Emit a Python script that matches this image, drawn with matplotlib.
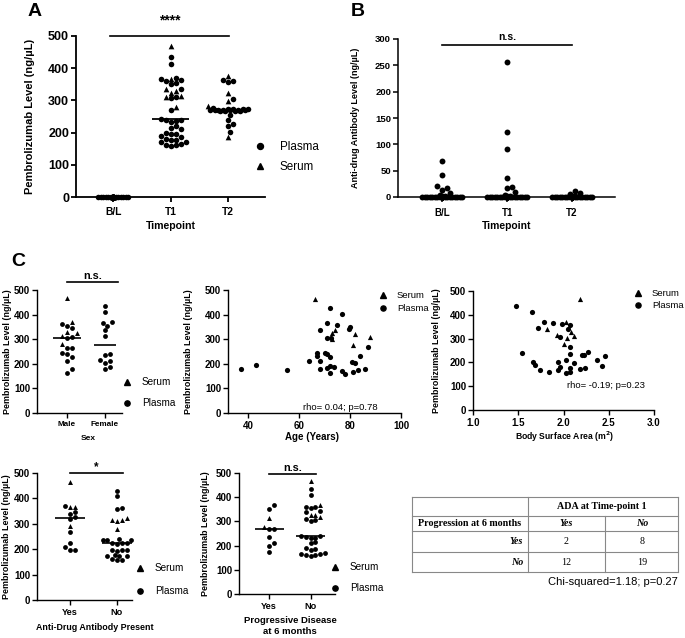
import numpy as np
import matplotlib
matplotlib.use('Agg')
import matplotlib.pyplot as plt
from matplotlib.lines import Line2D

plt.rcParams['font.family'] = ['Liberation Sans', 'DejaVu Sans']
plt.rcParams['axes.linewidth'] = 1.0

# ---------------- DATA ----------------
timepoints = ['B/L', 'T1', 'T2']
A_bl_plasma = [0, 0, 0, 0, 0, 0, 0, 0, 0, 0, 0, 0, 0, 0, 0, 0, 0, 0, 0, 0,
               0, 0, 0, 0, 0, 0, 0, 0, 0, 0, 0, 0, 0, 0, 0]
A_bl_serum = [0, 0, 0, 0, 0, 0]
A_t1_plasma = [436, 412, 370, 365, 363, 360, 353, 350, 335, 310, 308, 270,
               242, 240, 238, 236, 234, 220, 213, 210, 200, 197, 195, 190,
               185, 181, 178, 176, 172, 170, 165, 162, 160, 158]
A_t1_serum = [469, 366, 334, 330, 324, 315, 312, 279]
A_t2_plasma = [362, 360, 358, 305, 275, 274, 273, 272, 272, 271, 271, 270,
               270, 270, 269, 269, 268, 268, 267, 266, 255, 240, 228, 220, 202]
A_t2_serum = [375, 322, 298, 283, 187]

B_bl = [69, 41, 21, 18, 14, 7, 3, 2, 1, 0, 0, 0, 0, 0, 0, 0, 0, 0, 0, 0,
        0, 0, 0, 0, 0, 0, 0, 0, 0, 0, 0, 0, 0, 0, 0, 0, 0, 0, 0, 0, 0]
B_t1 = [256, 124, 91, 37, 19, 17, 9, 3, 2, 1, 0, 0, 0, 0, 0, 0, 0, 0, 0, 0,
        0, 0, 0, 0, 0, 0, 0, 0, 0, 0, 0, 0, 0, 0, 0, 0, 0, 0, 0, 0, 0]
B_t2 = [12, 8, 5, 2, 1, 0, 0, 0, 0, 0, 0, 0, 0, 0, 0, 0, 0, 0, 0, 0,
        0, 0, 0, 0, 0, 0, 0, 0, 0, 0, 0, 0, 0, 0, 0, 0, 0, 0, 0, 0, 0]

sex_cats = ['Male', 'Female']
sex_male_serum = [469, 369, 331, 324, 313, 280]
sex_male_plasma = [362, 355, 345, 310, 305, 266, 265, 243, 240, 226, 213, 178, 162]
sex_female_serum = []
sex_female_plasma = [436, 409, 368, 366, 355, 338, 311, 241, 236, 216, 212, 205, 185, 178]

age_serum = [66, 74, 73, 82, 88, 72.8, 81]
age_serum_lvl = [465, 337, 324, 321, 310, 300, 276]
age_plasma = [72, 77, 71, 75, 68, 79.4, 80, 71, 72.5, 87, 67, 67, 64, 70, 71, 72,
              68.3, 84, 80.8, 82, 37, 43, 55, 68, 71, 72, 73.8, 72, 77, 78, 81, 83, 86]
age_plasma_lvl = [425, 404, 364, 358, 336, 341, 350, 306, 303, 267, 243, 233, 213,
                  243, 238, 229, 213, 232, 206, 203, 179, 195, 176, 179, 184, 192,
                  188, 164, 172, 158, 168, 175, 179]

bsa_serum = [2.18, 1.82, 2.03, 1.93, 2.04, 2.08, 2.12, 2.01]
bsa_serum_lvl = [468, 342, 370, 314, 303, 328, 311, 279]
bsa_plasma = [1.47, 1.65, 1.72, 1.79, 1.88, 1.98, 2.07, 2.05, 1.96, 2.07, 1.54, 2.07,
              2.20, 2.23, 2.27, 2.46, 1.66, 1.69, 1.94, 2.03, 2.12, 2.37, 2.42, 1.74,
              1.84, 1.94, 1.96, 2.03, 2.07, 2.07, 2.18, 2.24]
bsa_plasma_lvl = [436, 412, 345, 370, 366, 362, 356, 341, 307, 265, 240, 237,
                  229, 233, 242, 228, 200, 191, 203, 209, 196, 211, 186, 170,
                  158, 168, 182, 154, 175, 161, 172, 175]

yn_cats = ['Yes', 'No']
ada_yes_serum = [464, 368, 365, 292]
ada_yes_plasma = [370, 345, 340, 325, 318, 267, 226, 210, 197, 195]
ada_no_serum = [322, 314, 313, 312, 279]
ada_no_plasma = [430, 408, 362, 358, 240, 238, 236, 235, 226, 225, 224, 222,
                 197, 196, 195, 194, 176, 175, 174, 173, 160, 158, 156]

pd_yes_serum = [312, 275]
pd_yes_plasma = [368, 353, 267, 267, 237, 212, 199, 175]
pd_no_serum = [467, 366, 328, 326, 318]
pd_no_plasma = [433, 408, 360, 358, 355, 342, 340, 309, 305, 300, 240, 238, 236,
                233, 230, 213, 210, 190, 186, 183, 170, 166, 164, 162, 160, 157]

table_header = 'ADA at Time-point 1'
table_rowtitle = 'Progression at 6 months'
table_cols = ['Yes', 'No']
table_rows = ['Yes', 'No']
table_counts = [[2, 8], [12, 19]]
chi_text = 'Chi-squared=1.18; p=0.27'

# ---------------- HELPERS ----------------
W, H = 685, 638
fig = plt.figure(figsize=(W / 100, H / 100), dpi=100)
BOLD = 'bold'


def add_ax(l, t, r, b):
    return fig.add_axes([l / W, 1 - b / H, (r - l) / W, (b - t) / H])


def style(ax, lw=1.0, xpad=1.5):
    for s in ['top', 'right']:
        ax.spines[s].set_visible(False)
    for s in ['left', 'bottom']:
        ax.spines[s].set_linewidth(lw)
    ax.tick_params(direction='out', width=lw, length=3.5, pad=1.5)
    ax.tick_params(axis='x', pad=xpad)


def swarm(vals, xs, ys, d, maxw):
    vals = np.asarray(vals, float)
    order = np.argsort(vals, kind='stable')
    placed = []
    offs = np.zeros(len(vals))
    step = d * 0.5
    nmax = max(1, int(maxw / step))
    cands = [0.0]
    for k in range(1, nmax + 1):
        cands += [k * step, -k * step]
    for i in order:
        y = vals[i] * ys
        chosen = None
        bestc, bestscore = 0.0, -1
        for c in cands:
            if not placed:
                chosen = c
                break
            md = min(np.hypot(c - px, y - py) for px, py in placed)
            if md >= d * 0.98:
                chosen = c
                break
            if md > bestscore:
                bestscore, bestc = md, c
        if chosen is None:
            chosen = bestc
        offs[i] = chosen
        placed.append((chosen, y))
    return offs / xs


def dot_group(ax, xpos, plasma, serum, xs, ys, d, maxw, s, median_hw=None, mlw=1.2):
    vals = list(plasma) + list(serum)
    offs = swarm(vals, xs, ys, d, maxw)
    n = len(plasma)
    if n:
        ax.scatter(xpos + offs[:n], plasma, marker='o', s=s, color='black',
                   linewidths=0, clip_on=False, zorder=3)
    if len(serum):
        ax.scatter(xpos + offs[n:], serum, marker='^', s=s * 1.05, color='black',
                   linewidths=0, clip_on=False, zorder=3)
    if median_hw is not None:
        m = np.median(vals)
        ax.plot([xpos - median_hw, xpos + median_hw], [m, m], color='black',
                lw=mlw, zorder=4, solid_capstyle='butt')


def legend_px(ax, labels, markers, mx, ty, gap, tx, fs, ms):
    fs_px = fs * 100 / 72
    handles = [Line2D([], [], marker=m, color='black', linestyle='none', markersize=ms)
               for m in markers]
    left = mx - fs_px / 2
    lsp = (gap - fs_px * 1.0) / fs_px
    top = ty - fs_px * 0.5
    leg = fig.legend(handles, labels, loc='upper left',
                     bbox_to_anchor=(left / W, 1 - top / H), frameon=False,
                     fontsize=fs, handlelength=1.0, borderpad=0, borderaxespad=0,
                     handletextpad=(tx - mx - fs_px / 2) / fs_px, labelspacing=lsp)
    return leg


def ylabel_at(ax, text, xpx, fs, l, r):
    ax.set_ylabel(text, fontsize=fs, fontweight=BOLD)
    anchor = xpx + 0.5 * fs * 100 / 72 * 0.95
    ax.yaxis.set_label_coords((anchor - l) / (r - l), 0.5)


def xlabel_at(ax, text, ypx, fs, t, b, xpx=None, l=None, r=None):
    ax.set_xlabel(text, fontsize=fs, fontweight=BOLD, linespacing=1.3)
    xf = 0.5 if xpx is None else (xpx - l) / (r - l)
    ax.xaxis.set_label_coords(xf, -(ypx - b) / (b - t))
    ax.xaxis.label.set_va('center')


def sigbar(ax, x0, x1, y, ty, text, fs):
    ax.plot([x0, x1], [y, y], color='black', lw=1.2, clip_on=False)
    ax.text((x0 + x1) / 2, ty, text, ha='center', va='center', fontsize=fs,
            fontweight=BOLD)


YT = [str(v) for v in range(0, 501, 100)]

# ---------------- PANEL A ----------------
l, t, r, b = 76, 36, 265, 197
axA = add_ax(l, t, r, b)
style(axA, 1.3, xpad=3.5)
axA.set_xlim(-0.65, 2.65)
axA.set_ylim(0, 500)
xsA = (r - l) / 3.3
ysA = (b - t) / 500
dot_group(axA, 0, A_bl_plasma, A_bl_serum, xsA, ysA, 5, 17, 16)
dot_group(axA, 1, A_t1_plasma, A_t1_serum, xsA, ysA, 5, 22, 16, median_hw=0.33, mlw=1.3)
dot_group(axA, 2, A_t2_plasma, A_t2_serum, xsA, ysA, 5, 20, 16, median_hw=0.33, mlw=1.3)
axA.set_xticks([0, 1, 2])
axA.set_xticklabels(timepoints, fontsize=7.4, fontweight=BOLD)
axA.set_yticks(range(0, 501, 100))
axA.set_yticklabels(YT, fontsize=9, fontweight=BOLD)
ylabel_at(axA, 'Pembrolizumab Level (ng/µL)', 30, 8.0, l, r)
xlabel_at(axA, 'Timepoint', 226, 7.6, t, b)
sigbar(axA, -0.05, 2.02, 500, 547, '****', 10)
legend_px(axA, ['Plasma', 'Serum'], ['o', '^'], 260, 147, 20, 280, 8.4, 4.3)
fig.text(35 / W, 1 - 11 / H, 'A', fontsize=14, fontweight=BOLD, ha='center', va='center')

# ---------------- PANEL B ----------------
l, t, r, b = 398, 39, 615, 197
axB = add_ax(l, t, r, b)
style(axB, 1.1, xpad=4.5)
axB.set_xlim(-0.68, 2.66)
axB.set_ylim(0, 300)
xsB = (r - l) / 3.34
ysB = (b - t) / 300
for i, grp in enumerate([B_bl, B_t1, B_t2]):
    dot_group(axB, i, grp, [], xsB, ysB, 5, 21, 18)
axB.set_xticks([0, 1, 2])
axB.set_xticklabels(timepoints, fontsize=7.0, fontweight=BOLD)
axB.set_yticks(range(0, 301, 50))
axB.set_yticklabels([str(v) for v in range(0, 301, 50)], fontsize=6.8, fontweight=BOLD)
ylabel_at(axB, 'Anti-drug Antibody Level (ng/µL)', 356, 6.5, l, r)
xlabel_at(axB, 'Timepoint', 226, 7.4, t, b)
sigbar(axB, 0, 2, 288, 304, 'n.s.', 7.5)
fig.text(358 / W, 1 - 11 / H, 'B', fontsize=14, fontweight=BOLD, ha='center', va='center')

fig.text(18 / W, 1 - 261 / H, 'C', fontsize=14, fontweight=BOLD, ha='center', va='center')

CY = 6.4   # C y-label size
CT = 7.0   # C y-tick size

# ---------------- PANEL C1 (Sex) ----------------
l, t, r, b = 37, 290, 122, 413
ax1 = add_ax(l, t, r, b)
style(ax1, 1.0, xpad=2.5)
ax1.set_xlim(-0.79, 1.45)
ax1.set_ylim(0, 500)
xs1 = (r - l) / 2.24
ys1 = (b - t) / 500
dot_group(ax1, 0, sex_male_plasma, sex_male_serum, xs1, ys1, 4.8, 14, 12, median_hw=0.38)
dot_group(ax1, 1, sex_female_plasma, sex_female_serum, xs1, ys1, 4.8, 14, 12, median_hw=0.30)
ax1.set_xticks([0, 1])
ax1.set_xticklabels(sex_cats, fontsize=5.9, fontweight=BOLD)
ax1.set_yticks(range(0, 501, 100))
ax1.set_yticklabels(YT, fontsize=CT, fontweight=BOLD)
ylabel_at(ax1, 'Pembrolizumab Level (ng/µL)', 8, CY, l, r)
xlabel_at(ax1, 'Sex', 438, 6.0, t, b, 88, l, r)
sigbar(ax1, 0, 1.35, 532, 557, 'n.s.', 7.8)
legend_px(ax1, ['Serum', 'Plasma'], ['^', 'o'], 127, 382, 21, 142, 7.2, 3.8)

# ---------------- PANEL C2 (Age) ----------------
l, t, r, b = 228, 290, 401, 413
ax2 = add_ax(l, t, r, b)
style(ax2, 1.0, xpad=2.0)
ax2.scatter(age_serum, age_serum_lvl, marker='^', s=14, color='black', linewidths=0, zorder=3)
ax2.scatter(age_plasma, age_plasma_lvl, marker='o', s=14, color='black', linewidths=0, zorder=3)
ax2.set_xlim(32, 100)
ax2.set_ylim(0, 500)
ax2.set_xticks([40, 60, 80, 100])
ax2.set_xticklabels(['40', '60', '80', '100'], fontsize=7.0, fontweight=BOLD)
ax2.set_yticks(range(0, 501, 100))
ax2.set_yticklabels(YT, fontsize=CT, fontweight=BOLD)
ylabel_at(ax2, 'Pembrolizumab Level (ng/µL)', 189, CY, l, r)
xlabel_at(ax2, 'Age (Years)', 437, 7.0, t, b, 312, l, r)
ax2.text((340 - l) / (r - l), (b - 407) / (b - t), 'rho= 0.04; p=0.78', transform=ax2.transAxes,
         ha='center', va='center', fontsize=6.8)
legend_px(ax2, ['Serum', 'Plasma'], ['^', 'o'], 383, 296, 13, 397, 6.8, 3.7)

# ---------------- PANEL C3 (BSA) ----------------
l, t, r, b = 473, 291, 654, 410
ax3 = add_ax(l, t, r, b)
style(ax3, 1.0, xpad=2.0)
ax3.scatter(bsa_serum, bsa_serum_lvl, marker='^', s=14, color='black', linewidths=0, zorder=3)
ax3.scatter(bsa_plasma, bsa_plasma_lvl, marker='o', s=14, color='black', linewidths=0, zorder=3)
ax3.set_xlim(1.0, 3.0)
ax3.set_ylim(0, 500)
ax3.set_xticks([1.0, 1.5, 2.0, 2.5, 3.0])
ax3.set_xticklabels(['1.0', '1.5', '2.0', '2.5', '3.0'], fontsize=7.0, fontweight=BOLD)
ax3.set_yticks(range(0, 501, 100))
ax3.set_yticklabels(YT, fontsize=CT, fontweight=BOLD)
ylabel_at(ax3, 'Pembrolizumab Level (ng/µL)', 437, CY, l, r)
xlabel_at(ax3, 'Body Surface Area (m$^{\\mathbf{2}}$)', 437, 6.2, t, b, 565, l, r)
ax3.text((567 - l) / (r - l), (b - 385) / (b - t), 'rho= -0.19; p=0.23', transform=ax3.transAxes,
         ha='left', va='center', fontsize=6.8)
legend_px(ax3, ['Serum', 'Plasma'], ['^', 'o'], 638, 294, 12, 652, 6.8, 3.7)

# ---------------- PANEL C4 (ADA) ----------------
l, t, r, b = 37, 473, 132, 600
ax4 = add_ax(l, t, r, b)
style(ax4, 1.0, xpad=2.5)
ax4.set_xlim(-0.70, 1.32)
ax4.set_ylim(0, 500)
xs4 = (r - l) / 2.02
ys4 = (b - t) / 500
dot_group(ax4, 0, ada_yes_plasma, ada_yes_serum, xs4, ys4, 4.8, 15, 12, median_hw=0.32)
dot_group(ax4, 1, ada_no_plasma, ada_no_serum, xs4, ys4, 4.8, 15, 12, median_hw=0.32)
ax4.set_xticks([0, 1])
ax4.set_xticklabels(yn_cats, fontsize=6.6, fontweight=BOLD)
ax4.set_yticks(range(0, 501, 100))
ax4.set_yticklabels(YT, fontsize=CT, fontweight=BOLD)
ylabel_at(ax4, 'Pembrolizumab Level (ng/µL)', 7, CY, l, r)
xlabel_at(ax4, 'Anti-Drug Antibody Present', 627, 6.4, t, b, 95, l, r)
sigbar(ax4, 0, 1.13, 500, 524, '*', 8.5)
legend_px(ax4, ['Serum', 'Plasma'], ['^', 'o'], 140, 568, 23, 155, 7.2, 3.8)

# ---------------- PANEL C5 (Progressive disease) ----------------
l, t, r, b = 239, 473, 335, 594
ax5 = add_ax(l, t, r, b)
style(ax5, 1.0, xpad=2.5)
ax5.set_xlim(-0.73, 1.59)
ax5.set_ylim(0, 500)
xs5 = (r - l) / 2.32
ys5 = (b - t) / 500
dot_group(ax5, 0, pd_yes_plasma, pd_yes_serum, xs5, ys5, 4.8, 15, 12, median_hw=0.35)
dot_group(ax5, 1, pd_no_plasma, pd_no_serum, xs5, ys5, 4.8, 15, 12, median_hw=0.35)
ax5.set_xticks([0, 1])
ax5.set_xticklabels(yn_cats, fontsize=6.6, fontweight=BOLD)
ax5.set_yticks(range(0, 501, 100))
ax5.set_yticklabels(YT, fontsize=CT, fontweight=BOLD)
ylabel_at(ax5, 'Pembrolizumab Level (ng/µL)', 206, CY, l, r)
xlabel_at(ax5, 'Progressive Disease\nat 6 months', 626, 6.8, t, b, 290, l, r)
sigbar(ax5, 0, 1.12, 496, 520, 'n.s.', 7.8)
legend_px(ax5, ['Serum', 'Plasma'], ['^', 'o'], 335, 567, 21, 350, 7.2, 3.8)

# ---------------- TABLE ----------------
tl, tt, tr, tb = 412, 497, 678, 572
axT = add_ax(tl, tt, tr, tb)
axT.set_xlim(tl, tr)
axT.set_ylim(tb, tt)
axT.axis('off')
gc = '#888888'
rows_y = [497, 516, 531, 552, 572]
for yy in rows_y:
    axT.plot([tl, tr], [yy, yy], color=gc, lw=0.8, clip_on=False)
axT.plot([tl, tl], [tt, tb], color=gc, lw=0.8, clip_on=False)
axT.plot([tr, tr], [tt, tb], color=gc, lw=0.8, clip_on=False)
axT.plot([528, 528], [tt, tb], color=gc, lw=0.8, clip_on=False)
axT.plot([605, 605], [516, tb], color=gc, lw=0.8, clip_on=False)
serif = ['Liberation Serif', 'DejaVu Serif']
tfs = 7.2
axT.text(602, 506.5, table_header, ha='center', va='center', fontsize=tfs,
         fontweight=BOLD, family=serif)
axT.text(418, 524, table_rowtitle, ha='left', va='center', fontsize=tfs,
         fontweight=BOLD, family=serif)
col_centers = [566, 642]
for j, c in enumerate(table_cols):
    axT.text(col_centers[j], 524, c, ha='center', va='center', fontsize=tfs,
             fontweight=BOLD, style='italic', family=serif)
row_centers = [542, 562.5]
for i, rname in enumerate(table_rows):
    axT.text(523, row_centers[i], rname, ha='right', va='center', fontsize=tfs,
             fontweight=BOLD, style='italic', family=serif)
    for j in range(2):
        axT.text(col_centers[j], row_centers[i], str(table_counts[i][j]), ha='center',
                 va='center', fontsize=tfs, family=serif)
fig.text(678 / W, 1 - 582 / H, chi_text, ha='right', va='center', fontsize=8.0)

fig.savefig('out.png', dpi=100, facecolor='white')
